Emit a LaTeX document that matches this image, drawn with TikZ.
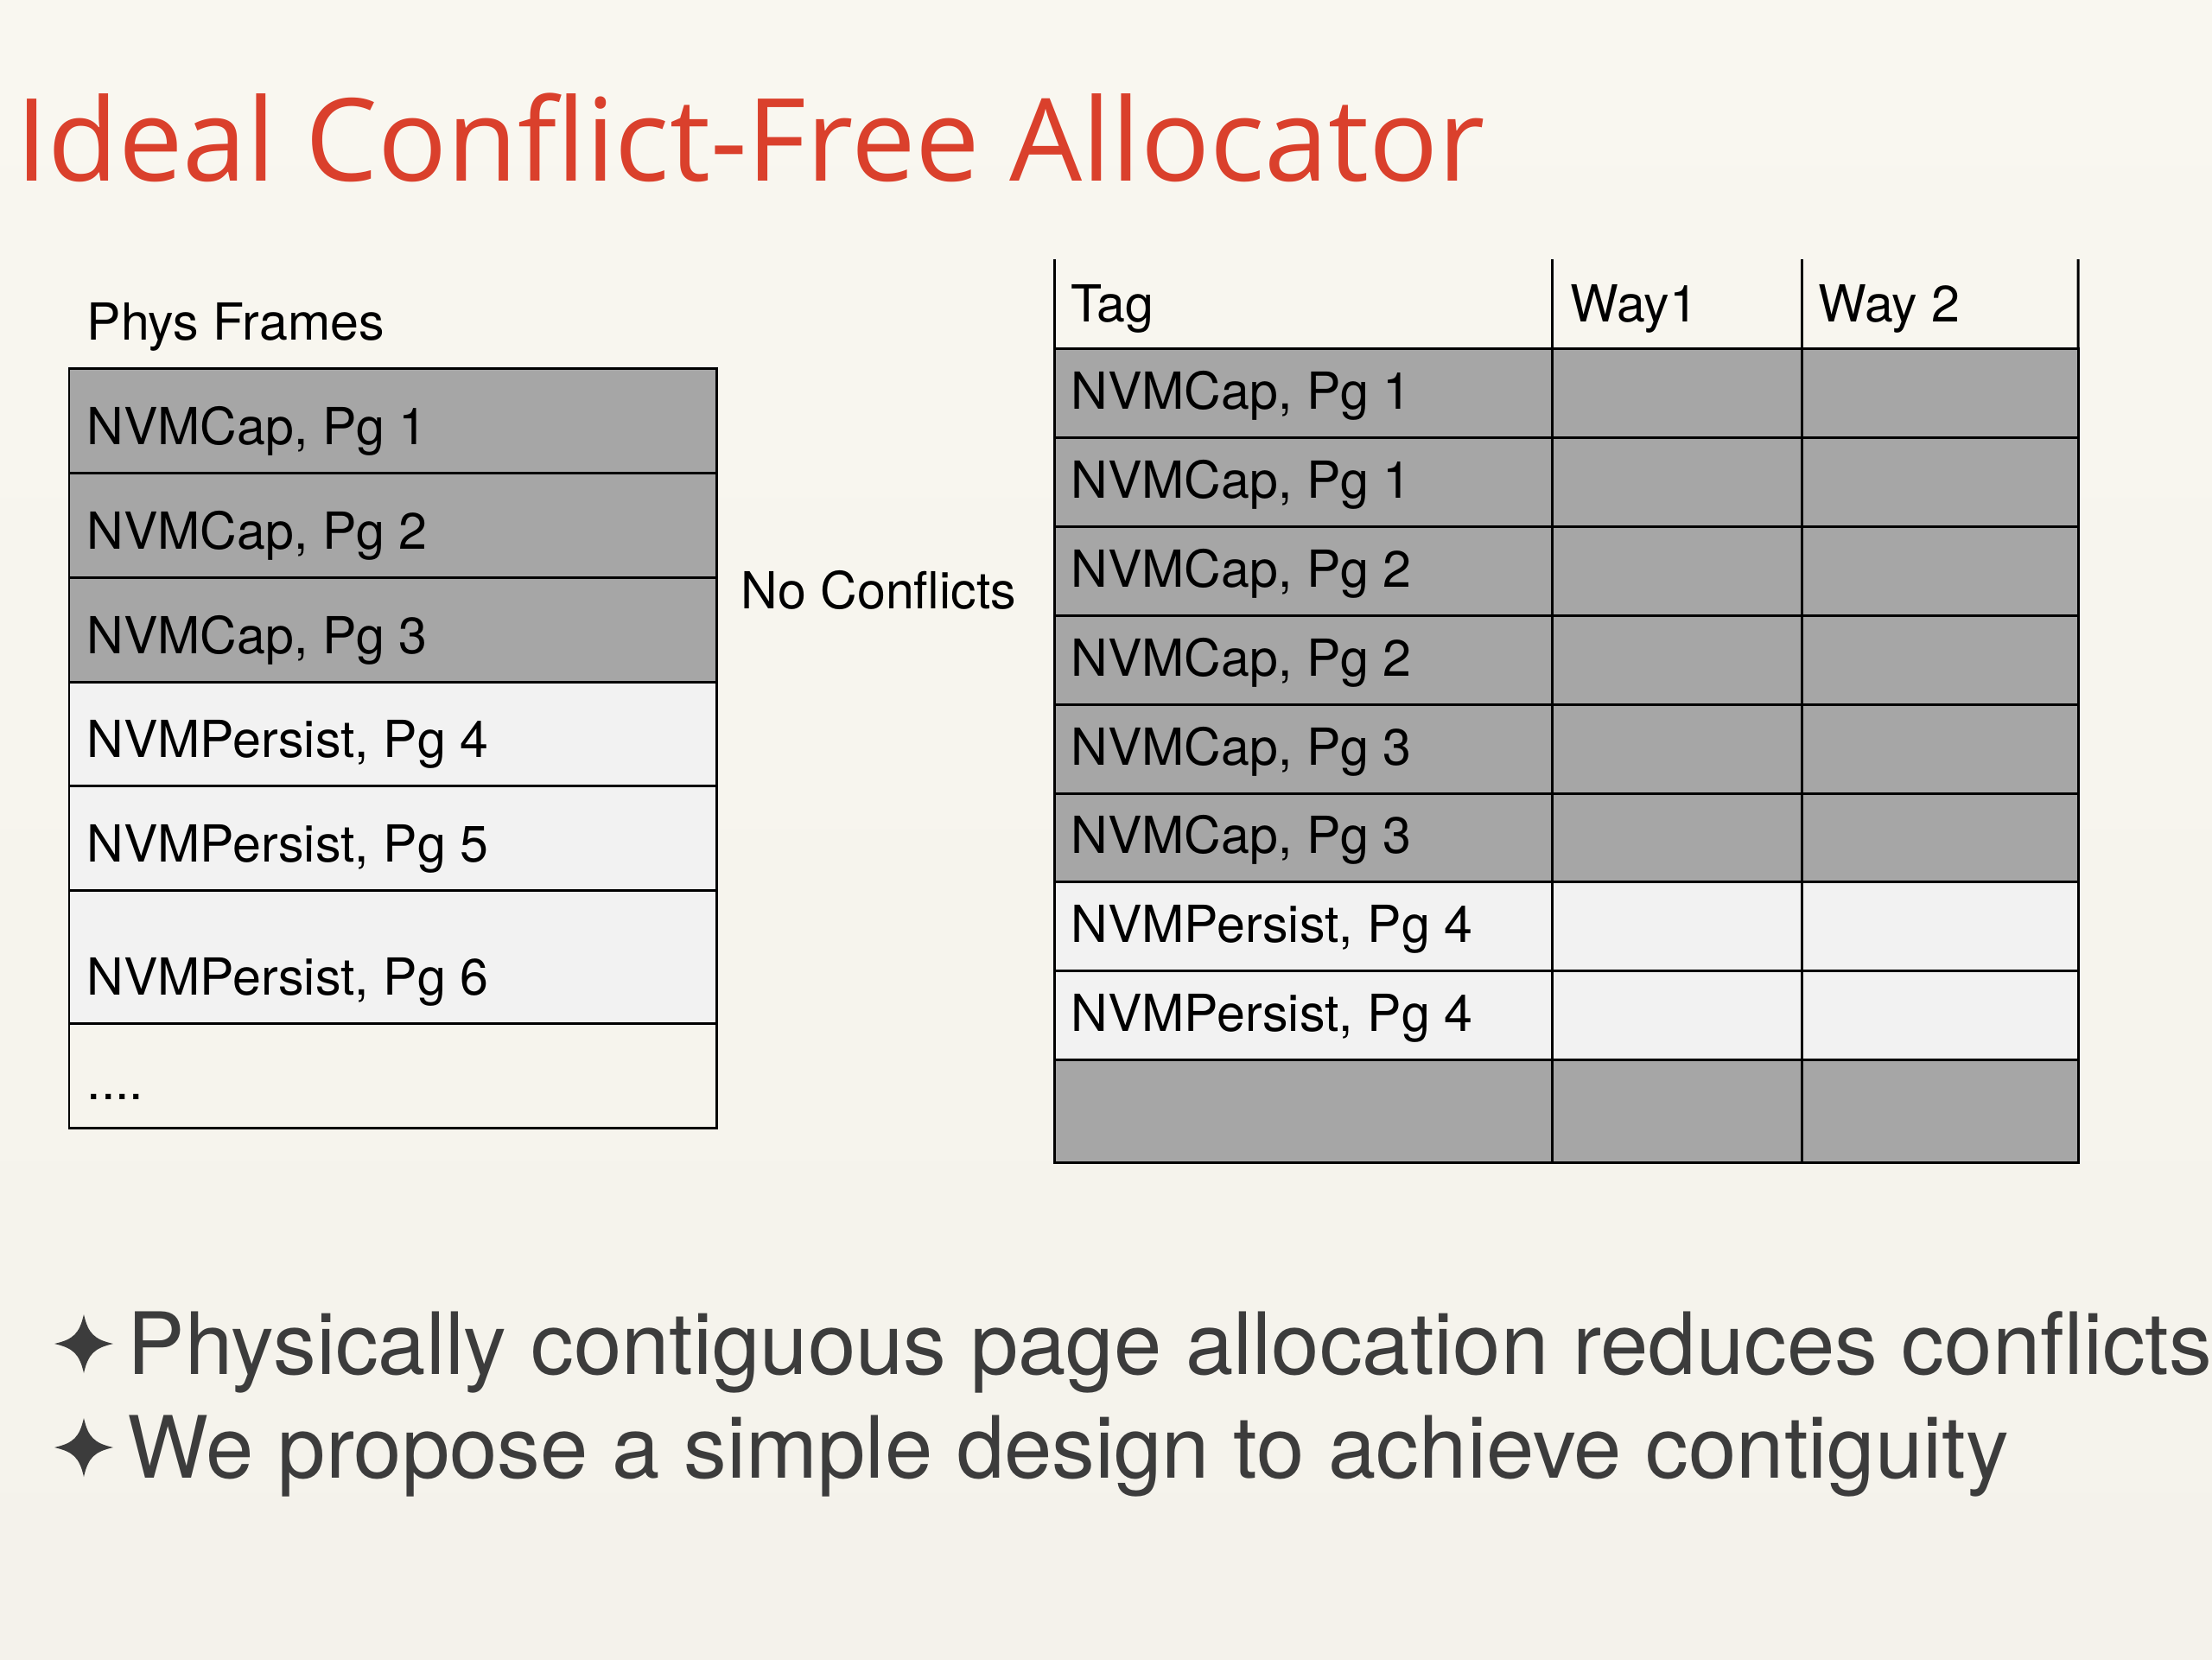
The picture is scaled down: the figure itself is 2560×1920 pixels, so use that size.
\documentclass[tikz,border=0pt]{standalone}
\usepackage{fontspec}
\setmainfont{TeX Gyre Heros}
\newfontfamily\titlefont{Open Sans}
\usetikzlibrary{calc}
\definecolor{titlered}{RGB}{218,64,44}
\definecolor{cellgray}{RGB}{166,166,166}
\definecolor{celllight}{RGB}{242,242,242}
\definecolor{bullettext}{RGB}{60,60,60}
\definecolor{bgtop}{RGB}{249,247,240}
\definecolor{bgmid}{RGB}{234,231,224}
\definecolor{bgbot}{RGB}{244,242,235}
\tikzset{
  cell/.style={draw=black,line width=0.85pt,inner sep=0pt,outer sep=0pt,anchor=north west},
  celltext/.style={inner sep=0pt,anchor=base west,font=\fontsize{16.8}{20}\selectfont,text=black},
  bullettxt/.style={inner sep=0pt,anchor=base west,font=\fontsize{28.3}{34}\selectfont,text=bullettext},
  gridline/.style={draw=black,line width=0.85pt}
}
\newcommand{\starbullet}[2]{%
  \fill[bullettext] (#1,#2-34) .. controls (#1+5,#2-12) and (#1+12,#2-5) .. (#1+34,#2)
    .. controls (#1+12,#2+5) and (#1+5,#2+12) .. (#1,#2+34)
    .. controls (#1-5,#2+12) and (#1-12,#2+5) .. (#1-34,#2)
    .. controls (#1-12,#2-5) and (#1-5,#2-12) .. cycle;}
\begin{document}
\begin{tikzpicture}[x=0.01cm,y=-0.01cm]
\useasboundingbox (0,0) rectangle (2560,1920);
\shade[top color=bgtop,middle color=bgmid,bottom color=bgbot] (0,0) rectangle (2560,1920);
\begin{scope}
\clip (0,0) rectangle (2560,1920);
% title
\node[inner sep=0pt,anchor=base west,font=\titlefont\fontsize{37.8}{46}\selectfont,text=titlered] (title) at (18,209) {Ideal Conflict-Free Allocator};
% left table
\node[celltext] (phys) at (100,393) {Phys Frames};
\foreach \i/\top/\h/\f/\t in {1/426/121/cellgray/{NVMCap, Pg 1},2/547/121/cellgray/{NVMCap, Pg 2},3/668/121/cellgray/{NVMCap, Pg 3},4/789/120/celllight/{NVMPersist, Pg 4},5/909/121/celllight/{NVMPersist, Pg 5},6/1030/154/celllight/{NVMPersist, Pg 6}}{
  \node[cell,fill=\f,minimum width=7.49cm,minimum height=\h*0.01cm] (L\i) at (80,\top) {};
  \node[celltext] (LT\i) at ($(L\i.south west)+(20,-33)$) {\t};
}
\node[cell,minimum width=7.49cm,minimum height=1.21cm] (L7) at (80,1184) {};
\node[celltext] (LT7) at ($(L7.south west)+(20,-33)$) {....};
% middle label
\node[celltext] (nocon) at (857,704) {No Conflicts};
% right table header
\coordinate (h0) at (1220,300);
\coordinate (h1) at (1796,300);
\coordinate (h2) at (2085,300);
\coordinate (h3) at (2405,300);
\node[celltext] (tag) at (1239,372) {Tag};
\node[celltext] (way1) at (1817,372) {Way1};
\node[celltext] (way2) at (2104,372) {Way 2};
% right table rows
\foreach \i/\top/\h/\f/\t in {1/403/103/cellgray/{NVMCap, Pg 1},2/506/103/cellgray/{NVMCap, Pg 1},3/609/103/cellgray/{NVMCap, Pg 2},4/712/103/cellgray/{NVMCap, Pg 2},5/815/103/cellgray/{NVMCap, Pg 3},6/918/102/cellgray/{NVMCap, Pg 3},7/1020/103/celllight/{NVMPersist, Pg 4},8/1123/103/celllight/{NVMPersist, Pg 4},9/1226/119/cellgray/{}}{
  \node[cell,fill=\f,minimum width=5.76cm,minimum height=\h*0.01cm] (RA\i) at (1220,\top) {};
  \node[cell,fill=\f,minimum width=2.89cm,minimum height=\h*0.01cm] (RB\i) at (1796,\top) {};
  \node[cell,fill=\f,minimum width=3.20cm,minimum height=\h*0.01cm] (RC\i) at (2085,\top) {};
  \node[celltext] (RT\i) at ($(RA\i.south west)+(19,-33)$) {\t};
}
\draw[gridline] (h0) -- (RA1.north west);
\draw[gridline] (h1) -- (RB1.north west);
\draw[gridline] (h2) -- (RC1.north west);
\draw[gridline] (h3) -- (RC1.north east);
% bullets
\starbullet{97}{1555}
\starbullet{97}{1675}
\node[bullettxt] (b1) at (147,1590) {Physically contiguous page allocation reduces conflicts};
\node[bullettxt] (b2) at (147,1710) {We propose a simple design to achieve contiguity};
\end{scope}
\end{tikzpicture}
\end{document}
